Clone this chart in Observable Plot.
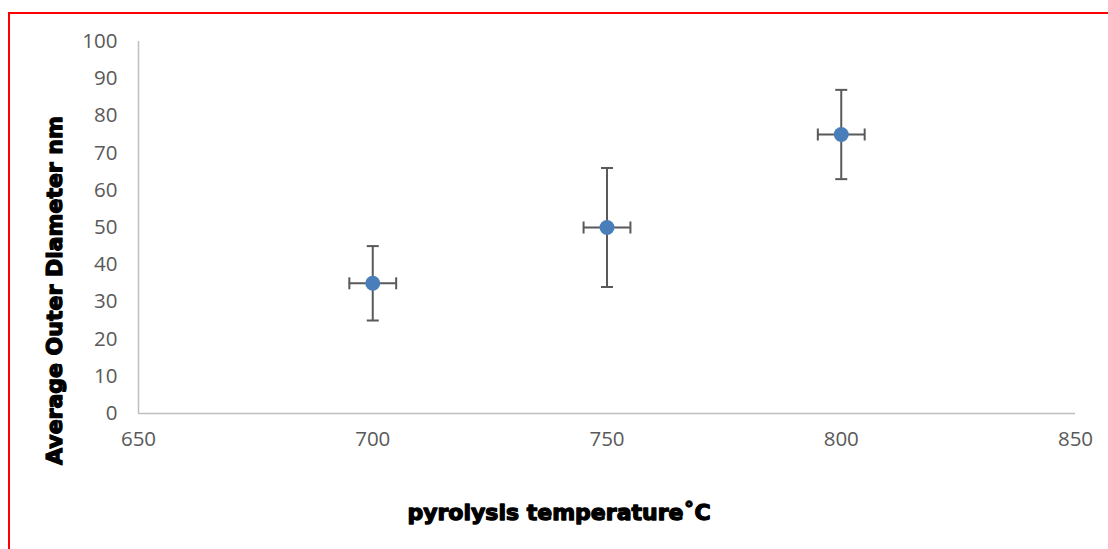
<!DOCTYPE html>
<html>
<head>
<meta charset="utf-8">
<script src="https://cdn.jsdelivr.net/npm/d3@7"></script>
<script src="https://cdn.jsdelivr.net/npm/@observablehq/plot@0.6"></script>
<style>
  html, body { margin: 0; padding: 0; background: #fff; }
  #wrap { position: relative; width: 1108px; height: 549px; overflow: hidden; }
  #border { position: absolute; left: 8px; top: 12px; width: 1200px; height: 700px; border-top: 2px solid #ff0000; border-left: 2px solid #ff0000; pointer-events: none; }
  #wrap svg { position: absolute; left: 0; top: 0; }
</style>
</head>
<body>
<div id="wrap"><div id="border"></div></div>
<script>
// Data
const temperatures = [700, 750, 800];
const diameters = [35, 50, 75];
const diameterErr = [10, 16, 12];
const temperatureErr = [5, 5, 5];
const xTicks = [650, 700, 750, 800, 850];
const yTicks = [0, 10, 20, 30, 40, 50, 60, 70, 80, 90, 100];
const xTitle = "pyrolysis temperature˚C";
const yTitle = "Average Outer Diameter nm";

const data = temperatures.map((t, i) => ({
  t, d: diameters[i], dy: diameterErr[i], dx: temperatureErr[i]
}));

const cap = {
  draw(context, size) {
    const r = Math.sqrt(size / Math.PI);
    context.moveTo(-r, 0);
    context.lineTo(r, 0);
  }
};
const vcap = {
  draw(context, size) {
    const r = Math.sqrt(size / Math.PI);
    context.moveTo(0, -r);
    context.lineTo(0, r);
  }
};

const errColor = "#595959";
const titleStyle = {fontFamily: "DejaVu Sans", fontWeight: "bold", fontSize: 22, fill: "#000", stroke: "#000", strokeWidth: 1.3};

const chart = Plot.plot({
  width: 1108,
  height: 549,
  marginLeft: 138,
  marginRight: 33,
  marginTop: 41,
  marginBottom: 136,
  style: {fontFamily: "'Open Sans', sans-serif", fontSize: "20.5px", color: "#595959", background: "transparent"},
  x: {domain: [650, 850]},
  y: {domain: [0, 100]},
  marks: [
    Plot.axisY({ticks: yTicks, tickSize: 0, tickPadding: 21, label: null, fill: "#595959"}),
    Plot.axisX({ticks: xTicks, tickSize: 0, tickPadding: 18, label: null, fill: "#595959"}),
    Plot.ruleX([650], {y1: 0, y2: 100, stroke: "#BFBFBF", strokeWidth: 1.5}),
    Plot.ruleY([0], {x1: 650, x2: 850, stroke: "#BFBFBF", strokeWidth: 1.5}),
    // vertical error bars
    Plot.ruleX(data, {x: "t", y1: d => d.d - d.dy, y2: d => d.d + d.dy, stroke: errColor, strokeWidth: 2}),
    Plot.dot(data, {x: "t", y: d => d.d - d.dy, symbol: cap, r: 6, stroke: errColor, strokeWidth: 2, fill: "none"}),
    Plot.dot(data, {x: "t", y: d => d.d + d.dy, symbol: cap, r: 6, stroke: errColor, strokeWidth: 2, fill: "none"}),
    // horizontal error bars
    Plot.ruleY(data, {y: "d", x1: d => d.t - d.dx, x2: d => d.t + d.dx, stroke: errColor, strokeWidth: 2}),
    Plot.dot(data, {x: d => d.t - d.dx, y: "d", symbol: vcap, r: 6, stroke: errColor, strokeWidth: 2, fill: "none"}),
    Plot.dot(data, {x: d => d.t + d.dx, y: "d", symbol: vcap, r: 6, stroke: errColor, strokeWidth: 2, fill: "none"}),
    // points
    Plot.dot(data, {x: "t", y: "d", r: 7.5, fill: "#4A7EBB", stroke: "none"}),
    // axis titles
    Plot.text([xTitle], {frameAnchor: "bottom", dx: -48, dy: 106, text: d => d, textAnchor: "middle", ...titleStyle}),
    Plot.text([yTitle], {frameAnchor: "bottom-left", dx: -77, dy: -123, rotate: -90, text: d => d, textAnchor: "middle", ...titleStyle})
  ]
});
document.getElementById("wrap").appendChild(chart);
</script>
</body>
</html>
